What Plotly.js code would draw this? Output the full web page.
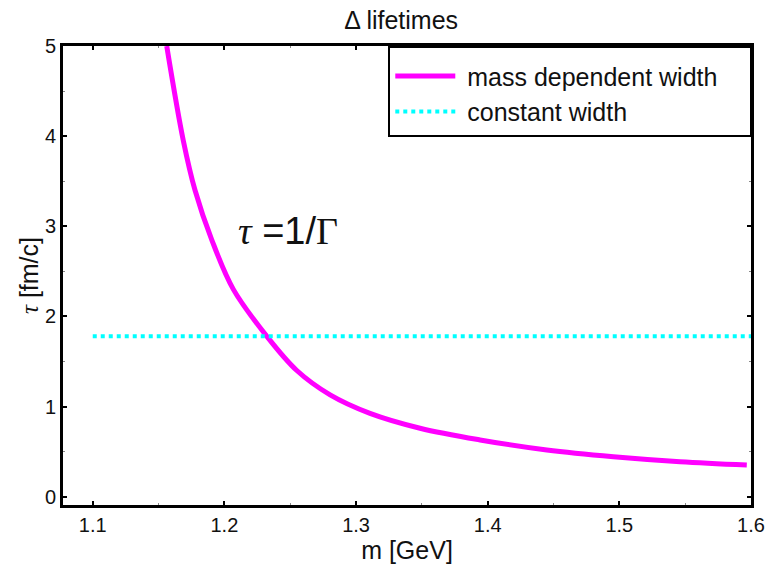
<!DOCTYPE html>
<html>
<head>
<meta charset="utf-8">
<script src="https://cdn.plot.ly/plotly-3.0.1.min.js"></script>
<style>html,body{margin:0;padding:0;background:#fff;}#chart{width:768px;height:564px;}</style>
</head>
<body>
<div id="chart"></div>
<script>
// Mass dependent width: lifetime tau [fm/c] vs mass m [GeV]
var massDep_m   = [1.1562, 1.1688, 1.1777, 1.1904, 1.2068, 1.2322, 1.2550, 1.2803, 1.3106, 1.3486, 1.3942, 1.4449, 1.4955, 1.5461, 1.5968];
var massDep_tau = [5.00,   3.95,   3.40,   2.85,   2.30,   1.78,   1.40,   1.13,   0.925,  0.76,   0.63,   0.518,  0.443,  0.388,  0.351];
// Constant width lifetime
var const_m   = [1.1, 1.6];
var const_tau = [1.78, 1.78];
var xTicks = [1.1, 1.2, 1.3, 1.4, 1.5, 1.6];
var yTicks = [0, 1, 2, 3, 4, 5];
var seriesNames = ['mass dependent width', 'constant width'];

var font = 'Liberation Sans, Arial, sans-serif';
var traces = [
  {x: massDep_m, y: massDep_tau, type: 'scatter', mode: 'lines', line: {color: '#ff00ff', width: 5, shape: 'spline', smoothing: 1},
   name: '\u00a0' + seriesNames[0] + '\u00a0\u00a0\u00a0\u00a0'},
  {x: const_m, y: const_tau, type: 'scatter', mode: 'lines', line: {color: '#00ffff', width: 4, dash: '4px,4px'},
   name: '\u00a0' + seriesNames[1]}
];
var axisCommon = {
  showgrid: false, zeroline: false, showline: true, linecolor: '#000', linewidth: 3, mirror: 'allticks',
  ticks: 'inside', ticklen: 4, tickwidth: 2, tickcolor: '#000',
  tickfont: {family: font, size: 20, color: '#111'},
  minor: {ticks: 'inside', ticklen: 2, tickwidth: 1, tickcolor: '#888'}
};
var layout = {
  width: 768, height: 564,
  margin: {l: 62.5, r: 17, t: 46, b: 59},
  paper_bgcolor: '#fff', plot_bgcolor: '#fff',
  title: {text: 'Δ lifetimes', font: {family: font, size: 25, color: '#111'}, x: 0.5223, xanchor: 'center', y: 0.964, yanchor: 'middle'},
  xaxis: Object.assign({}, axisCommon, {
    range: [1.0774, 1.6], tickvals: xTicks, ticktext: xTicks.map(function(v){return v.toFixed(1);}),
    minor: Object.assign({}, axisCommon.minor, {dtick: 0.05, tick0: 1.05}),
    title: {text: 'm [GeV]', font: {family: font, size: 25, color: '#111'}, standoff: 1}
  }),
  yaxis: Object.assign({}, axisCommon, {
    range: [-0.092, 5], tickvals: yTicks, ticktext: yTicks.map(String),
    minor: Object.assign({}, axisCommon.minor, {dtick: 0.5, tick0: 0}),
    title: {text: '<span style="font-family:Liberation Serif;font-style:italic">τ</span> [fm/c]', font: {family: font, size: 25, color: '#111'}, standoff: 0}
  }),
  legend: {x: 0.4728, xanchor: 'left', y: 1, yanchor: 'top', bgcolor: '#fff', bordercolor: '#000', borderwidth: 2,
    font: {family: font, size: 25, color: '#111'}, itemwidth: 60, tracegroupgap: 0,
    title: {text: ' ', font: {family: font, size: 4}}},
  showlegend: true,
  annotations: [{
    x: 1.248, y: 2.95, xref: 'x', yref: 'y', showarrow: false,
    text: '<span style="font-family:Liberation Serif;font-style:italic">τ</span> =1/<span style="font-family:Liberation Serif">Γ</span>',
    font: {family: font, size: 38, color: '#111'}
  }]
};
Plotly.newPlot('chart', traces, layout, {displayModeBar: false, staticPlot: true});
</script>
</body>
</html>
